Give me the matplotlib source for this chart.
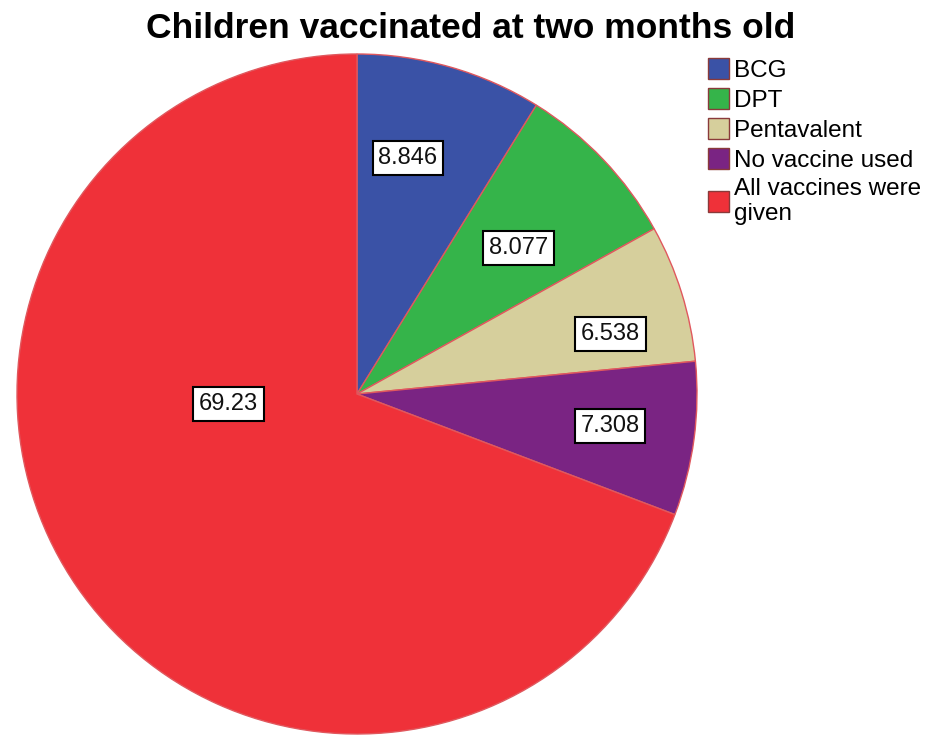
import numpy as np
import matplotlib
matplotlib.use("Agg")
from matplotlib import pyplot as plt
from matplotlib.patches import Patch

plt.rcParams['font.family'] = ['Liberation Sans', 'DejaVu Sans']

categories = ["BCG", "DPT", "Pentavalent", "No vaccine used", "All vaccines were\ngiven"]
values = [8.846, 8.077, 6.538, 7.308, 69.23]
value_labels = ["8.846", "8.077", "6.538", "7.308", "69.23"]
colors = ["#3a52a6", "#35b44a", "#d6cf9c", "#7a2483", "#ef3139"]
# label placement as (fraction of radius, angle in degrees)
label_pos = [(0.71, 77.8), (0.64, 42.2), (0.765, 13.3), (0.75, -7.2), (0.38, -175.6)]

fig = plt.figure(figsize=(9.41, 7.38), dpi=100)
W, H = 941, 738
cx, cy, r = 357, 394, 340
ax = fig.add_axes([(cx - r) / W, (H - cy - r) / H, 2 * r / W, 2 * r / H])

wedges, _ = ax.pie(values, colors=colors, startangle=90, counterclock=False,
                   wedgeprops=dict(edgecolor="#e0585e", linewidth=1.0))
ax.set_xlim(-1, 1)
ax.set_ylim(-1, 1)
ax.set_aspect("equal")
ax.axis("off")

for lab, (rr, a) in zip(value_labels, label_pos):
    ang = np.deg2rad(a)
    ax.text(rr * np.cos(ang), rr * np.sin(ang), lab, ha="center", va="center",
            fontsize=17, color="#111111",
            bbox=dict(boxstyle="square,pad=0.25", facecolor="white",
                      edgecolor="black", linewidth=1.5))

fig.text(471 / W, 1 - 28 / H, "Children vaccinated at two months old", ha="center",
         va="center", fontsize=25.5, fontweight="bold")

handles = [Patch(facecolor=c, edgecolor="#8a3a3a", linewidth=1.0) for c in colors]
fig.legend(handles, categories, loc="upper left", bbox_to_anchor=(708 / W, 1 - 58 / H),
           frameon=False, fontsize=17.5, handlelength=0.85, handleheight=0.95,
           handletextpad=0.2, labelspacing=0.25, borderpad=0, borderaxespad=0)

fig.savefig("out.png", dpi=100)
